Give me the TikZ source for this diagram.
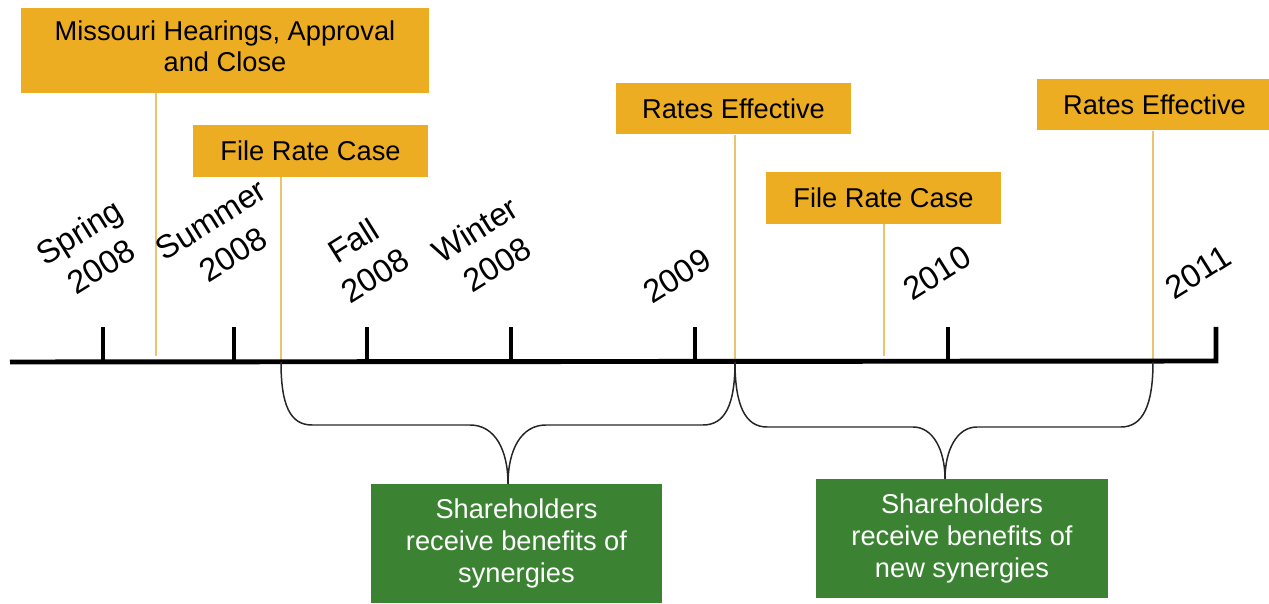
\documentclass[tikz,border=0pt]{standalone}
\usepackage{fontspec}
\setmainfont{Liberation Sans}
\usetikzlibrary{positioning}
\definecolor{evorange}{HTML}{EDAD22}
\definecolor{evstem}{HTML}{EAC46E}
\definecolor{outgreen}{HTML}{3B8333}
\tikzset{%
   evbox/.style={
      fill=evorange,
      inner sep=0pt,
      minimum width=4.7cm,
      minimum height=1.04cm,
      font=\fontsize{15.5}{17.5}\selectfont,
      align=center
   },
   outbox/.style={
      fill=outgreen,
      text=white,
      inner sep=0pt,
      minimum width=5.84cm,
      minimum height=2.4cm,
      font=\fontsize{15.5}{18.2}\selectfont,
      align=center
   },
   datelbl/.style={
      rotate=32,
      align=center,
      inner sep=0pt,
      font=\fontsize{18.5}{23.5}\selectfont
   },
   axis/.style={
      line width=2.8pt,
      line join=miter
   },
   tickmark/.style={
      line width=2.8pt
   },
   stem/.style={
      draw=evstem,
      line width=0.85pt
   },
   brc/.style={
      draw=black!85,
      line width=0.85pt
   }
}
\begin{document}
\begin{tikzpicture}[x=0.02cm, y=-0.02cm]
   \useasboundingbox (0,0) rectangle (1269,604);
   % event boxes
   \node[evbox, minimum width=8.16cm, minimum height=1.7cm] (mh) at (225,50.5) {};
   \node[align=center, inner sep=0pt, font=\fontsize{15.5}{17.5}\selectfont] (mhtxt) at (225,46.5)
      {Missouri Hearings, Approval\\and Close};
   \node[evbox] (frca) at (310.5,151) {File Rate Case};
   \node[evbox] (rea) at (733.5,108.5) {Rates Effective};
   \node[evbox] (frcb) at (883.5,198) {File Rate Case};
   \node[evbox] (reb) at (1154.5,104.5) {Rates Effective};
   % points on the timeline
   \coordinate (pmh) at (156,356);
   \coordinate (pfa) at (281,362);
   \coordinate (pra) at (735,362);
   \coordinate (pfb) at (884,356);
   \coordinate (prb) at (1153,362);
   \draw[stem] (pmh |- mh.south) -- (pmh);
   \draw[stem] (pfa |- frca.south) -- (pfa);
   \draw[stem] (pra |- rea.south) -- (pra);
   \draw[stem] (pfb |- frcb.south) -- (pfb);
   \draw[stem] (prb |- reb.south) -- (prb);
   % timeline
   \draw[axis] (10,362) -- (1216,361) -- (1216,327);
   \foreach \x in {103,234,367,511,695,948}
      \draw[tickmark] (\x,362) -- (\x,327);
   % dates
   \node[datelbl] (spr) at (90,249) {Spring\\2008};
   \node[datelbl] (sum) at (222,237) {Summer\\2008};
   \node[datelbl] (fal) at (364,258) {Fall\\2008};
   \node[datelbl] (win) at (486,247) {Winter\\2008};
   \node[datelbl] (ya) at (677,276) {2009};
   \node[datelbl] (yb) at (937,273) {2010};
   \node[datelbl] (yc) at (1198,272) {2011};
   % outcome boxes
   \node[outbox] (gain) at (516.5,543.5)
      {Shareholders\\receive benefits of\\synergies};
   \node[outbox, minimum height=2.38cm] (gbin) at (962,538.5)
      {Shareholders\\receive benefits of\\new synergies};
   % braces
   \draw[brc] (pfa) .. controls (281,405) and (290,425) .. (312,425)
      -- (470,425) .. controls (495,425) and (508,450) .. (508,484)
      .. controls (508,450) and (521,425) .. (546,425)
      -- (703,425) .. controls (725,425) and (735,405) .. (pra);
   \draw[brc] (pra) .. controls (735,405) and (745,427) .. (767,427)
      -- (913,427) .. controls (933,427) and (945,450) .. (945,479)
      .. controls (945,450) and (957,427) .. (977,427)
      -- (1121,427) .. controls (1143,427) and (1153,405) .. (prb);
\end{tikzpicture}
\end{document}
